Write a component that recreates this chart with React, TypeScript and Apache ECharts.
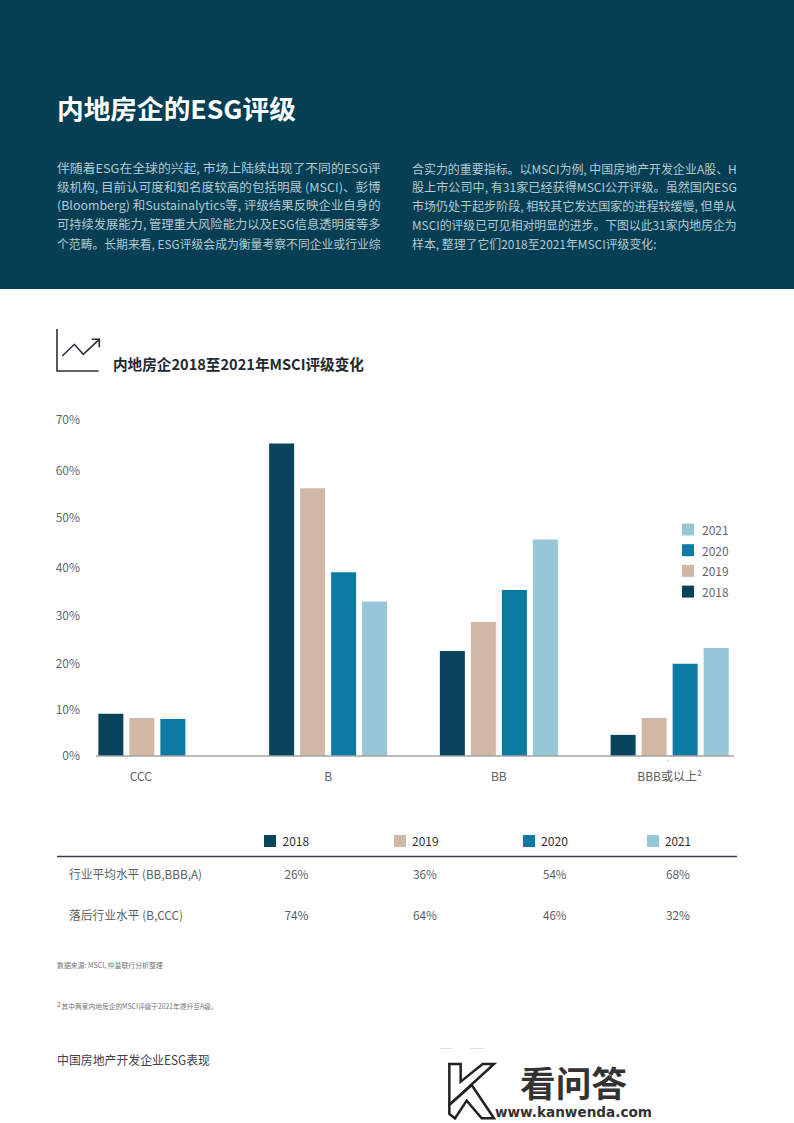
import React, { useEffect, useRef } from "react";
import * as echarts from "echarts";

const FONT = '"Noto Sans CJK SC", "Noto Sans", sans-serif';

const categories = ["CCC", "B", "BB", "BBB或以上²"];
const years = ["2018", "2019", "2020", "2021"];
const values2018 = [8.8, 65.1, 21.9, 4.4];
const values2019 = [7.9, 55.8, 27.9, 7.9];
const values2020 = [7.7, 38.3, 34.6, 19.2];
const values2021 = [null, 32.2, 45.1, 22.5];
const colors = ["#08455d", "#d0b8a6", "#0c7aa2", "#97c6d6"];
const legendOrder = ["2021", "2020", "2019", "2018"];

const introLeft = [
  "伴随着ESG在全球的兴起, 市场上陆续出现了不同的ESG评",
  "级机构, 目前认可度和知名度较高的包括明晟 (MSCI)、彭博",
  "(Bloomberg) 和Sustainalytics等, 评级结果反映企业自身的",
  "可持续发展能力, 管理重大风险能力以及ESG信息透明度等多",
  "个范畴。长期来看, ESG评级会成为衡量考察不同企业或行业综",
];
const introRight = [
  "合实力的重要指标。以MSCI为例, 中国房地产开发企业A股、H",
  "股上市公司中, 有31家已经获得MSCI公开评级。虽然国内ESG",
  "市场仍处于起步阶段, 相较其它发达国家的进程较缓慢, 但单从",
  "MSCI的评级已可见相对明显的进步。下图以此31家内地房企为",
  "样本, 整理了它们2018至2021年MSCI评级变化:",
];
const rowLeaders = ["26%", "36%", "54%", "68%"];
const rowLaggards = ["74%", "64%", "46%", "32%"];

const measureCtx = document.createElement("canvas").getContext("2d")!;

function fit(text: string, left: number, right: number, y: number, size: number, color: string, weight: string | number = "normal") {
  measureCtx.font = `${weight} ${size}px ${FONT}`;
  const w = measureCtx.measureText(text).width || 1;
  return {
    type: "text",
    x: left,
    y: y - size * 0.08,
    scaleX: (right - left) / w,
    style: { text, fill: color, font: `${weight} ${size}px ${FONT}`, textAlign: "left", textVerticalAlign: "middle" },
  };
}

function lineEl(points: number[][], stroke: string, lineWidth: number) {
  return { type: "polyline", shape: { points }, style: { stroke, lineWidth, fill: "none" } };
}

function buildGraphic() {
  const els: any[] = [];
  els.push({ type: "rect", z: -10, shape: { x: 0, y: 0, width: 794, height: 289 }, style: { fill: "#063f54" } });
  els.push(fit("内地房企的ESG评级", 57, 296, 110, 26, "#ffffff", "bold"));

  const lineYs = [169, 187.7, 206.3, 225, 244];
  const bodyColor = "#b4cad2";
  introLeft.forEach((t, i) => els.push(fit(t, 57, 381, lineYs[i], 12, bodyColor)));
  introRight.forEach((t, i) => els.push(fit(t, 412, i === 4 ? 657 : 737, lineYs[i], 12, bodyColor)));

  // section icon
  const ink = "#2a3138";
  els.push(lineEl([[57, 329], [57, 371], [98.5, 371]], ink, 1.6));
  els.push(lineEl([[62.3, 356], [74.3, 344.3], [83.3, 354.3], [99.3, 339.3]], ink, 1.6));
  els.push(lineEl([[91.7, 339.3], [99.3, 339.3], [99.3, 347.3]], ink, 1.6));
  els.push(fit("内地房企2018至2021年MSCI评级变化", 113, 364, 365, 15, "#23292f", "bold"));

  // baseline of the chart and the small stray tick under it
  els.push({ type: "line", z: 20, shape: { x1: 96, y1: 756, x2: 734, y2: 756 }, style: { stroke: "#a3a3a3", lineWidth: 1.5 } });
  els.push({ type: "line", shape: { x1: 667, y1: 761, x2: 669, y2: 761 }, style: { stroke: "#c4c4c4", lineWidth: 1 } });

  // summary table
  const swatchX = [264, 394, 523, 647];
  const yearX = [282.5, 412, 541, 665];
  const yearEnd = [309, 438.5, 568, 691];
  years.forEach((yr, i) => {
    els.push({ type: "rect", shape: { x: swatchX[i], y: 835, width: 12, height: 12 }, style: { fill: colors[i] } });
    els.push(fit(yr, yearX[i], yearEnd[i], 841, 12, "#2b2f33"));
  });
  els.push({ type: "line", shape: { x1: 57, y1: 856.5, x2: 737, y2: 856.5 }, style: { stroke: "#3a4046", lineWidth: 1.5 } });
  const cellX = [284.5, 413, 543, 666];
  const cellEnd = [308.5, 437, 566.5, 690];
  const cellColor = "#5c5f63";
  els.push(fit("行业平均水平 (BB,BBB,A)", 69, 202, 874, 12, cellColor));
  els.push(fit("落后行业水平 (B,CCC)", 69, 183, 915, 12, cellColor));
  rowLeaders.forEach((t, i) => els.push(fit(t, cellX[i], cellEnd[i], 874, 12, cellColor)));
  rowLaggards.forEach((t, i) => els.push(fit(t, cellX[i], cellEnd[i], 915, 12, cellColor)));

  // footnotes
  els.push(fit("数据来源: MSCI, 仲量联行分析整理", 57, 163, 965.5, 7, "#70757a"));
  els.push(fit("2", 57, 60.5, 1004, 7, "#a0564a"));
  els.push(fit("其中两家内地房企的MSCI评级于2021年提升至A级。", 61.5, 218, 1007, 7, "#70757a"));
  els.push(fit("中国房地产开发企业ESG表现", 57, 210, 1060.5, 12.5, "#3f4347"));

  // watermark
  const z2 = (p: number[][]) => p.map(([a, b]) => [420 + a / 3, 1040 + b / 3]);
  els.push({ type: "line", shape: { x1: 440, y1: 1048.5, x2: 452, y2: 1048.5 }, style: { stroke: "#dddddd", lineWidth: 1 } });
  els.push({ type: "line", shape: { x1: 470, y1: 1048.5, x2: 484, y2: 1048.5 }, style: { stroke: "#dddddd", lineWidth: 1 } });
  els.push({
    type: "polygon",
    shape: { points: z2([[88, 72], [122, 72], [122, 125], [188, 72], [222, 72], [88, 195]]) },
    style: { fill: "#ffffff", stroke: "#222222", lineWidth: 2.5 },
  });
  els.push({
    type: "polygon",
    shape: { points: z2([[88, 195], [155, 135], [222, 235], [185, 235], [140, 182], [105, 235], [88, 222]]) },
    style: { fill: "#ffffff", stroke: "#222222", lineWidth: 2.5 },
  });
  els.push(fit("看问答", 520, 627, 1084, 35, "#333333", "bold"));
  els.push({
    type: "text",
    x: 495,
    y: 1112,
    style: { text: "www.kanwenda.com", fill: "#333333", font: `bold 13.6px "DejaVu Sans", sans-serif`, textVerticalAlign: "middle" },
  });
  return els;
}

// Hand-set nudges: the reference's tick labels are not evenly spaced.
const labelPadTop: Record<string, number> = { "70": 0, "60": 3, "50": 1, "40": 5, "30": 5, "20": 5, "10": 0, "0": 0 };
const labelPadBottom: Record<string, number> = { "70": 4, "60": 0, "50": 0, "40": 0, "30": 0, "20": 0, "10": 0, "0": 4 };

export default function App() {
  const ref = useRef<HTMLDivElement>(null);
  useEffect(() => {
    const chart = echarts.init(ref.current!, undefined, { renderer: "svg" });
    const seriesValues = [values2018, values2019, values2020, values2021];
    const rich: Record<string, any> = {};
    Object.keys(labelPadTop).forEach((k) => {
      rich["v" + k] = { padding: [labelPadTop[k], 0, labelPadBottom[k], 0], fontSize: 12, fontFamily: FONT, color: "#5f6675" };
    });
    chart.setOption({
      animation: false,
      backgroundColor: "#ffffff",
      textStyle: { fontFamily: FONT },
      grid: { left: 72, right: 39, top: 420, height: 336, containLabel: false },
      xAxis: {
        type: "category",
        data: categories,
        axisLine: { show: false },
        axisTick: { show: false },
        axisLabel: {
          margin: 13,
          fontSize: 12,
          color: "#5b5f66",
          fontFamily: FONT,
          interval: 0,
          formatter: (v: string) => (v === "CCC" ? "{ccc|CCC}" : v),
          rich: { ccc: { padding: [0, 33, 0, 0], fontSize: 12, color: "#5b5f66", fontFamily: FONT } },
        },
      },
      yAxis: {
        type: "value",
        min: 0,
        max: 70,
        interval: 10,
        splitLine: { show: false },
        axisLine: { show: false },
        axisTick: { show: false },
        axisLabel: {
          margin: -8,
          align: "right",
          formatter: (v: number) => `{v${v}|${v}%}`,
          rich,
        },
      },
      legend: {
        orient: "vertical",
        left: 677,
        top: 518.5,
        itemWidth: 12,
        itemHeight: 12,
        itemGap: 8.7,
        icon: "rect",
        data: legendOrder,
        textStyle: { fontSize: 12, color: "#5f6675", fontFamily: FONT, padding: [0, 0, 0, 3] },
      },
      series: years.map((y, i) => ({
        name: y,
        type: "bar",
        barWidth: 25,
        barGap: "24%",
        itemStyle: { color: colors[i] },
        data: seriesValues[i],
      })),
      graphic: { elements: buildGraphic() },
    });
    return () => chart.dispose();
  }, []);
  return <div ref={ref} style={{ position: "absolute", left: 0, top: 0, width: 794, height: 1123 }} />;
}
